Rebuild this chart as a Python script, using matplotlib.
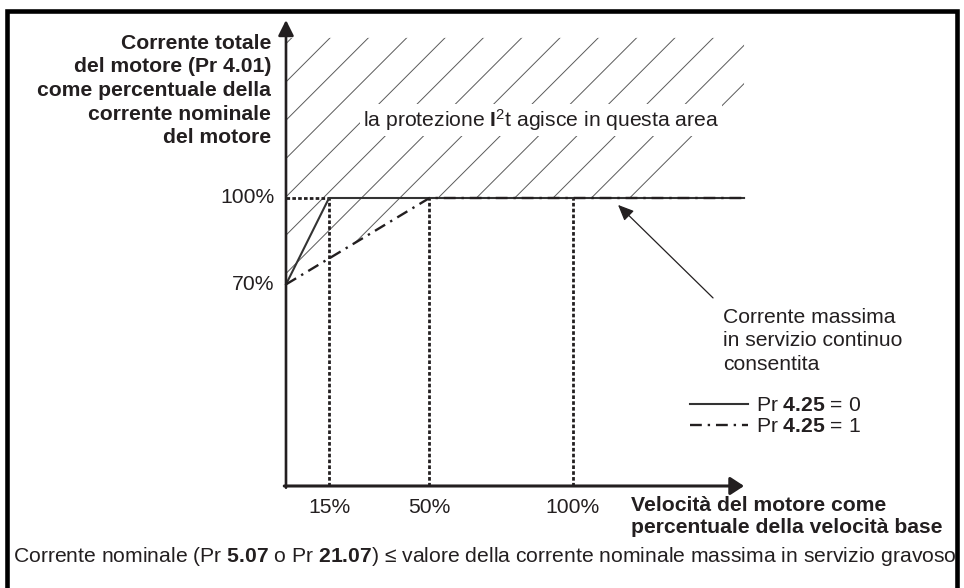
import numpy as np
import matplotlib
matplotlib.use("Agg")
import matplotlib.pyplot as plt
from matplotlib.patches import Polygon
from matplotlib.lines import Line2D

plt.rcParams['font.family'] = ['Liberation Sans', 'DejaVu Sans']
plt.rcParams['mathtext.fontset'] = 'custom'
plt.rcParams['mathtext.rm'] = 'Liberation Sans'
plt.rcParams['mathtext.it'] = 'Liberation Sans:italic'
plt.rcParams['mathtext.bf'] = 'Liberation Sans:bold'

# data (percent of base speed / percent of rated current)
speed_std = [0, 15, 159.6]        # Pr 4.25 = 0
current_std = [70, 100, 100]
speed_alt = [0, 50, 159.6]        # Pr 4.25 = 1
current_alt = [70, 100, 100]
speed_marks = [15, 50, 100]
speed_labels = ['15%', '50%', '100%']
current_marks = [100, 70]
current_labels = ['100%', '70%']
top_of_area = 155.6
axis_end_x = 159.6
axis_end_y = 161.8

ink = '#231f20'
fs = 15.2
W, H = 964, 588

fig = plt.figure(figsize=(W / 100, H / 100), dpi=100)
ax = fig.add_axes([0, 0, 1, 1])
ax.set_xlim(-99.65, 236.24)
ax.set_ylim(-35.42, 168.75)
ax.axis('off')


def fx(px):
    return px / W


def fy(py):
    return 1 - py / H


# hatched area above the Pr 4.25 = 1 curve
area = Polygon(list(zip(speed_alt, current_alt)) + [(axis_end_x, top_of_area), (0, top_of_area)],
               closed=True, transform=ax.transData, facecolor='none', edgecolor='none')
ax.add_patch(area)
r = 2.88 / 2.87
for c in 26.3 + 13.35 * np.arange(-10, 8):
    ys = np.array([50, 170])
    hl, = ax.plot(c + (ys - 100) * r, ys, color='#5a5a5a', lw=0.7, zorder=1)
    hl.set_clip_path(area)

# dotted guides
for s in speed_marks:
    ax.plot([s, s], [0, 100], color=ink, lw=2.0, dashes=(1.3, 0.8), zorder=2)
ax.plot([0, speed_std[1]], [100, 100], color=ink, lw=2.0, dashes=(1.3, 0.8), zorder=2)

# current limit curves
ln0, = ax.plot(speed_std, current_std, color='#333333', lw=1.5, zorder=3,
               label='Pr $\\mathbf{4.25}$ = 0')
ln1, = ax.plot(speed_alt, current_alt, color=ink, lw=1.7, zorder=4,
               dashes=(5, 2.5, 1, 2.5), label='Pr $\\mathbf{4.25}$ = 1')

# axes with arrows
ax.annotate('', xy=(0, axis_end_y), xytext=(0, -0.6),
            arrowprops=dict(arrowstyle='-|>,head_length=0.62,head_width=0.31',
                            mutation_scale=15, lw=1.9, color=ink, shrinkA=0, shrinkB=0), zorder=5)
ax.annotate('', xy=(axis_end_x, 0), xytext=(-0.6, 0),
            arrowprops=dict(arrowstyle='-|>,head_length=0.55,head_width=0.36',
                            mutation_scale=15, lw=2.2, color=ink, shrinkA=0, shrinkB=0), zorder=5)

# tick labels
for v, t in zip(current_marks, current_labels):
    ax.text(-4.0, v, t, ha='right', va='center', fontsize=fs, color=ink)
for v, t in zip(speed_marks, speed_labels):
    ax.text(v, -7.5, t, ha='center', va='center', fontsize=fs, color=ink)

# axis titles
fig.text(fx(271), fy(90.5), 'Corrente totale\ndel motore (Pr 4.01)\ncome percentuale della\n'
         'corrente nominale\ndel motore', ha='right', va='center', ma='right',
         fontsize=fs, fontweight='bold', color=ink, linespacing=1.31)
fig.text(fx(631), fy(516.5), 'Velocità del motore come\npercentuale della velocità base',
         ha='left', va='center', fontsize=fs, fontweight='bold', color=ink, linespacing=1.18)

# area label
ax.text(88.9, 127.1, 'la protezione $\\mathbf{I}^{2}$t agisce in questa area', ha='center',
        va='center', fontsize=fs, color=ink, zorder=6,
        bbox=dict(facecolor='white', edgecolor='none', pad=2))

# annotation
ax.annotate('', xy=(115.7, 97.6), xytext=(148.8, 65.3),
            arrowprops=dict(arrowstyle='-|>,head_length=0.8,head_width=0.35',
                            mutation_scale=12, lw=0.9, color=ink, shrinkA=0, shrinkB=0), zorder=6)
fig.text(fx(723), fy(341), 'Corrente massima\nin servizio continuo\nconsentita',
         ha='left', va='center', fontsize=fs, color=ink, linespacing=1.27)

leg = ax.legend(handles=[ln0, ln1], loc='upper left', bbox_to_anchor=(fx(690), fy(396)),
                bbox_transform=fig.transFigure, frameon=False, fontsize=fs,
                borderpad=0, borderaxespad=0, handlelength=2.75, handletextpad=0.4,
                labelspacing=0.1)
for t in leg.get_texts():
    t.set_color(ink)

# footnote
fig.text(fx(13), fy(556), 'Corrente nominale (Pr $\\mathbf{5.07}$ o Pr $\\mathbf{21.07}$) ≤ valore '
         'della corrente nominale massima in servizio gravoso', ha='left', va='center',
         fontsize=fs, color=ink)

# frame
fig.add_artist(Line2D([fx(7), fx(7), fx(956.5), fx(956.5)], [-0.01, fy(10.5), fy(10.5), -0.01],
                      transform=fig.transFigure, color='black', lw=3.3,
                      solid_joinstyle='miter', zorder=10))

fig.savefig('out.png', dpi=100)
